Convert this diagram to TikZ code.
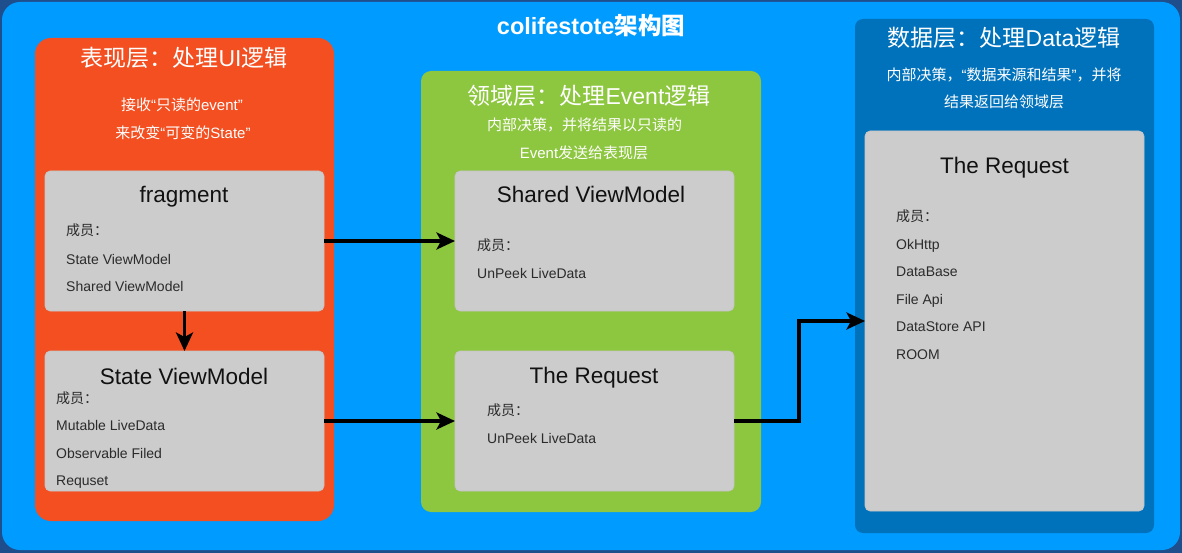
\documentclass[tikz,border=0pt]{standalone}
\usepackage{fontspec}
\setmainfont{Liberation Sans}
\newfontfamily\cjk{Noto Sans CJK SC}
\newcommand{\zhs}[1]{{\cjk #1}}
\usetikzlibrary{arrows.meta}
\definecolor{navy}{HTML}{1F4E8C}
\definecolor{skyb}{HTML}{009BFF}
\definecolor{orangep}{HTML}{F34F21}
\definecolor{greenp}{HTML}{8DC63F}
\definecolor{bluep}{HTML}{0072BC}
\definecolor{boxgray}{HTML}{CCCCCC}
\definecolor{boxedge}{HTML}{C4C4C4}
\definecolor{titlecol}{HTML}{111111}
\definecolor{itemcol}{HTML}{2B2B2B}
\tikzset{
  panel/.style={draw=none, inner sep=0, outer sep=0},
  box/.style={fill=boxgray, draw=boxedge, line width=0.6pt, rounded corners=5pt, minimum width=279pt, minimum height=140pt, inner sep=0, outer sep=0},
  ptitle/.style={text=white, font=\fontsize{23}{27}\selectfont, anchor=base, inner sep=0},
  psub/.style={text=white, font=\fontsize{15}{17}\selectfont, anchor=base, inner sep=0},
  btitle/.style={text=titlecol, font=\fontsize{22.5}{26}\selectfont, anchor=base, inner sep=0},
  item/.style={text=itemcol, font=\fontsize{14}{16}\selectfont, anchor=base west, inner sep=0},
  arr/.style={line width=3.2pt, draw=black, -{Stealth[length=18.5pt,width=17pt,inset=4.5pt]}},
}
\begin{document}
\begin{tikzpicture}[x=1pt,y=-1pt]
\useasboundingbox (0,0) rectangle (1182,553);
\fill[navy] (0,0) rectangle (1182,553);
\fill[skyb, rounded corners=18pt] (2,2) rectangle (1180,550);

% title
\node[text=white, font=\fontsize{23.5}{27}\selectfont\bfseries, anchor=base, inner sep=0] (title) at (591,34.5) {colifestote{\cjk\bfseries 架构图}};

% panels
\node[panel, fill=orangep, rounded corners=16pt, minimum width=299pt, minimum height=483pt] (pres) at (184.5,279.5) {};
\node[panel, fill=greenp, rounded corners=10pt, minimum width=340pt, minimum height=441pt] (dom) at (591,291.5) {};
\node[panel, fill=bluep, rounded corners=8pt, minimum width=299pt, minimum height=514pt] (data) at (1004.5,276) {};

% panel titles
\node[ptitle] (prest) at (184,66.5) {\zhs{表现层：处理}UI\zhs{逻辑}};
\node[psub] (pres1) at (182,110.3) {\zhs{接收}“\zhs{只读的}event”};
\node[psub] (pres2) at (183,138.6) {\zhs{来改变}“\zhs{可变的}State”};

\node[ptitle] (domt) at (589,105) {\zhs{领域层：处理}Event\zhs{逻辑}};
\node[psub] (dom1) at (584.5,131) {\zhs{内部决策，并将结果以只读的}};
\node[psub] (dom2) at (584,158.3) {Event\zhs{发送给表现层}};

\node[ptitle] (datat) at (1004,46.3) {\zhs{数据层：处理}Data\zhs{逻辑}};
\node[psub] (data1) at (1004,80.3) {\zhs{内部决策，}“\zhs{数据来源和结果}”\zhs{，并将}};
\node[psub] (data2) at (1004,108) {\zhs{结果返回给领域层}};

% boxes
\node[box] (frag) at (184.5,241) {};
\node[box] (svm) at (184.5,421) {};
\node[box] (shvm) at (594.5,241) {};
\node[box] (mreq) at (594.5,421) {};
\node[box, minimum height=380pt] (rreq) at (1004.5,321) {};

% fragment
\node[btitle] (fragt) at (184,203) {fragment};
\node[item] (frag1) at (66,236) {\zhs{成员：}};
\node[item] (frag2) at (66,264) {State ViewModel};
\node[item] (frag3) at (66,291) {Shared ViewModel};

% State ViewModel
\node[btitle] (svmt) at (184,384) {State ViewModel};
\node[item] (svm1) at (56,403) {\zhs{成员：}};
\node[item] (svm2) at (56,430.5) {Mutable LiveData};
\node[item] (svm3) at (56,458) {Observable Filed};
\node[item] (svm4) at (56,485) {Requset};

% Shared ViewModel
\node[btitle] (shvmt) at (591,203) {Shared ViewModel};
\node[item] (shvm1) at (477,251) {\zhs{成员：}};
\node[item] (shvm2) at (477,278) {UnPeek LiveData};

% middle request
\node[btitle] (mreqt) at (594,383) {The Request};
\node[item] (mreq1) at (487,415.5) {\zhs{成员：}};
\node[item] (mreq2) at (487,443) {UnPeek LiveData};

% right request
\node[btitle] (rreqt) at (1004.5,174) {The Request};
\node[item] (rreq1) at (896,221.5) {\zhs{成员：}};
\node[item] (rreq2) at (896,249) {OkHttp};
\node[item] (rreq3) at (896,276) {DataBase};
\node[item] (rreq4) at (896,304) {File Api};
\node[item] (rreq5) at (896,331) {DataStore API};
\node[item] (rreq6) at (896,359) {ROOM};

% connectors
\draw[arr] (frag.south) -- (svm.north);
\draw[arr] (frag.east) -- (shvm.west);
\draw[arr] (svm.east) -- (mreq.west);
\draw[arr, rounded corners=0pt] (mreq.east) -- ++(65,0) |- (rreq.west);
\end{tikzpicture}
\end{document}
